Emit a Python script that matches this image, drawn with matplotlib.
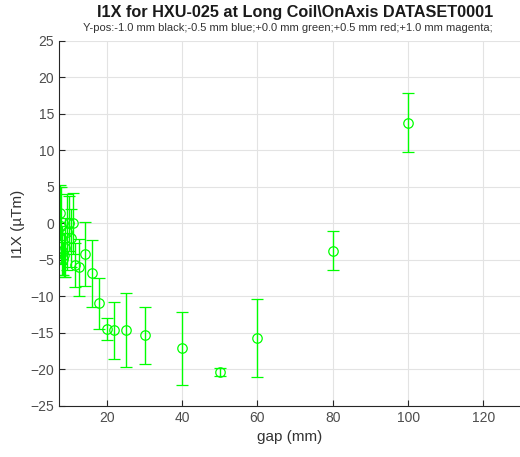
import numpy as np
import matplotlib
matplotlib.use('Agg')
import matplotlib.pyplot as plt

plt.rcParams['font.family'] = ['Liberation Sans', 'DejaVu Sans']

# gap (mm), I1X (uTm), error
gap = [7.5, 7.8, 8.0, 8.3, 8.6, 9.0, 9.5, 10.0, 10.5, 11.0, 11.6, 12.5, 14.2,
       16.1, 18.0, 20.0, 22.0, 25.0, 30.0, 40.0, 50.0, 60.0, 80.0, 100.0]
i1x = [1.5, -0.3, -3.7, -4.8, -4.3, -3.3, -1.2, 0.0, -2.0, 0.0, -5.7, -6.0, -4.2,
       -6.8, -10.9, -14.5, -14.6, -14.6, -15.3, -17.1, -20.4, -15.7, -3.7, 13.8]
err = [3.8, 5.3, 3.3, 2.3, 3.0, 4.0, 5.2, 3.7, 4.0, 4.2, 3.0, 3.9, 4.4,
       4.6, 3.5, 1.5, 3.9, 5.1, 3.9, 5.0, 0.55, 5.35, 2.65, 4.05]

fig = plt.figure(figsize=(5.2, 4.57), dpi=100)
ax = fig.add_axes([0.1135, 0.1116, 0.8865, 0.7987])

ax.errorbar(gap, i1x, yerr=err, fmt='o', color='#00ff00', mfc='none', mec='#00ff00',
            markersize=6.8, mew=0.9, elinewidth=1.0, capsize=4, capthick=1.0)

ax.set_xlim(7.3, 129.7)
ax.set_ylim(-25, 25)
ax.set_xticks([20, 40, 60, 80, 100, 120])
ax.set_yticks(np.arange(-25, 26, 5))
ax.grid(True, color='#e3e3e3', linewidth=0.8)
ax.set_axisbelow(True)
ax.spines['top'].set_visible(False)
ax.spines['right'].set_visible(False)
for s in ['left', 'bottom']:
    ax.spines[s].set_color('#262626')
    ax.spines[s].set_linewidth(0.8)
ax.tick_params(direction='in', length=4, labelsize=10, colors='#262626', labelcolor='#4d4d4d')

ax.set_xlabel('gap (mm)', fontsize=11, color='#333333')
ax.set_ylabel('I1X (µTm)', fontsize=11, color='#333333')

fig.text(0.568, 0.973, 'I1X for HXU-025 at Long Coil\\OnAxis DATASET0001',
         ha='center', va='center', fontsize=11.7, fontweight='bold', color='#1a1a1a')
fig.text(0.553, 0.938, 'Y-pos:-1.0 mm black;-0.5 mm blue;+0.0 mm green;+0.5 mm red;+1.0 mm magenta;',
         ha='center', va='center', fontsize=8, color='#333333')

fig.savefig('out.png', dpi=100)
